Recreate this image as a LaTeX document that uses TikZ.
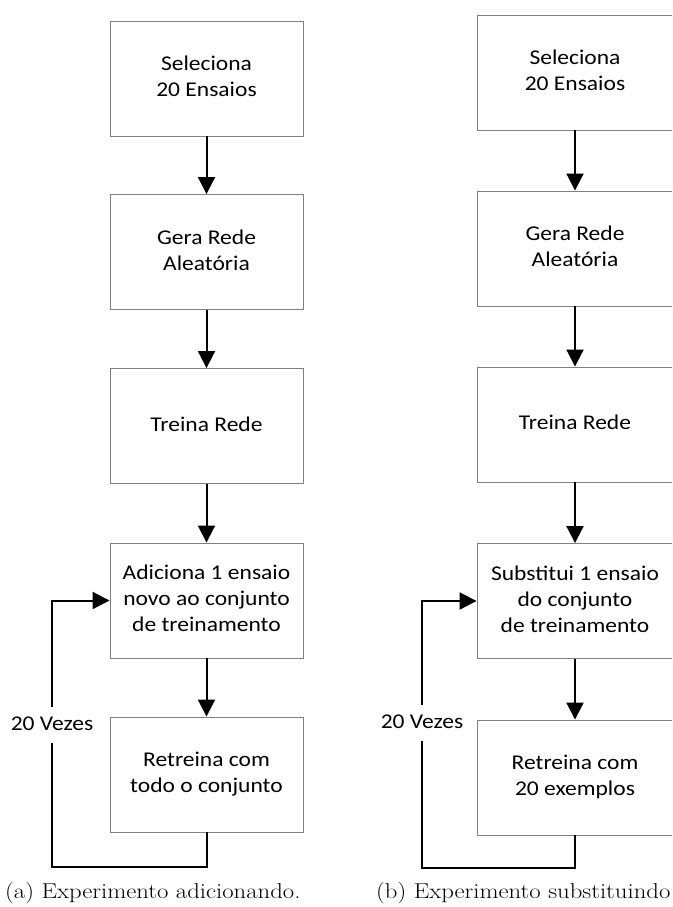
\documentclass[tikz,border=0pt]{standalone}
\usepackage{fontspec}
\usepackage{graphicx}
\newfontfamily\boxfont{Carlito}
\usetikzlibrary{arrows.meta}

% text is set slightly wide, as in the original drawing
\newcommand{\widetext}[1]{\raisebox{-2pt}{\scalebox{1.12}[1]{\begin{tabular}{@{}c@{}}#1\end{tabular}}}}

\tikzset{
  stepbox/.style={draw=black!50, line width=0.9pt, inner sep=0pt,
    minimum height=115pt, align=center,
    font=\boxfont\fontsize{21}{26}\selectfont},
  leftbox/.style={stepbox, minimum width=193pt},
  rightbox/.style={stepbox, minimum width=204pt},
  flow/.style={line width=2pt, -{Triangle[length=17pt,width=17pt]}},
  loopline/.style={line width=2pt, -{Triangle[length=17pt,width=17pt]}},
  note/.style={fill=white, inner xsep=1pt, inner ysep=5pt,
    font=\boxfont\fontsize{21}{26}\selectfont},
  subcap/.style={anchor=base west, inner sep=0pt,
    font=\fontsize{21.5}{24}\selectfont}
}

\begin{document}
\begin{tikzpicture}[x=1pt,y=-1pt]
  \useasboundingbox (0,0) rectangle (672,907);
  \clip (0,0) rectangle (672,907);

  % (a) flow with an added example per iteration
  \node[leftbox] (a1) at (206.5,78.5) {\widetext{Seleciona\\20 Ensaios}};
  \node[leftbox] (a2) at (206.5,252) {\widetext{Gera Rede\\Aleatória}};
  \node[leftbox] (a3) at (206.5,426) {\widetext{Treina Rede}};
  \node[leftbox] (a4) at (206.5,600.5) {\widetext{Adiciona 1 ensaio\\novo ao conjunto\\de treinamento}};
  \node[leftbox] (a5) at (206.5,774.5) {\widetext{Retreina com\\todo o conjunto}};

  \draw[flow] (a1) -- (a2);
  \draw[flow] (a2) -- (a3);
  \draw[flow] (a3) -- (a4);
  \draw[flow] (a4) -- (a5);

  \coordinate (aloop) at (52,867);
  \draw[loopline] (a5.south) |- (aloop) |- (a4.west);
  \node[note] (anote) at (52,725) {\widetext{20 Vezes}};

  \node[subcap] (acap) at (5,898) {\scalebox{1.15}[1]{(a) Experimento adicionando.}};

  % (b) flow with a replaced example per iteration; the boxes run off the
  % right edge, so their texts and connectors sit 4pt left of the box centre
  \node[rightbox] (b1) at (579,72.5) {\hspace*{-8pt}\widetext{Seleciona\\20 Ensaios}};
  \node[rightbox] (b2) at (579,248.5) {\hspace*{-8pt}\widetext{Gera Rede\\Aleatória}};
  \node[rightbox] (b3) at (579,424.5) {\hspace*{-8pt}\widetext{Treina Rede}};
  \node[rightbox] (b4) at (579,601) {\hspace*{-8pt}\widetext{Substitui 1 ensaio\\do conjunto\\de treinamento}};
  \node[rightbox] (b5) at (579,777.5) {\hspace*{-8pt}\widetext{Retreina com\\20 exemplos}};

  \draw[flow] ([xshift=-4pt]b1.south) -- ([xshift=-4pt]b2.north);
  \draw[flow] ([xshift=-4pt]b2.south) -- ([xshift=-4pt]b3.north);
  \draw[flow] ([xshift=-4pt]b3.south) -- ([xshift=-4pt]b4.north);
  \draw[flow] ([xshift=-4pt]b4.south) -- ([xshift=-4pt]b5.north);

  \coordinate (bloop) at (422,868);
  \draw[loopline] ([xshift=-4pt]b5.south) |- (bloop) |- (b4.west);
  \node[note] (bnote) at (422,723) {\widetext{20 Vezes}};

  \node[subcap] (bcap) at (376,898) {\scalebox{1.15}[1]{(b) Experimento substituindo}};
\end{tikzpicture}
\end{document}
